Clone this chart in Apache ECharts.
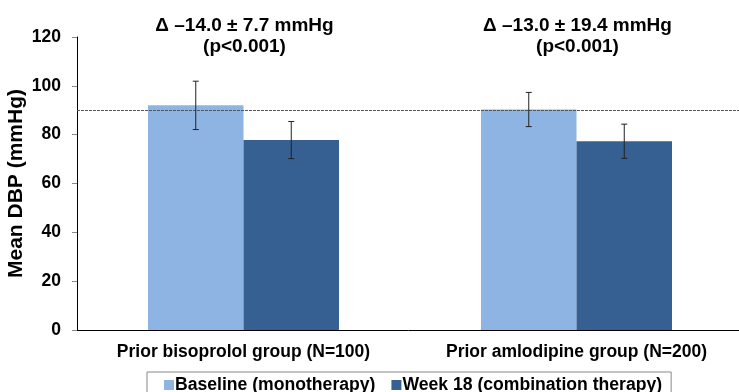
<!DOCTYPE html>
<html>
<head>
<meta charset="utf-8">
<script src="https://cdn.jsdelivr.net/npm/echarts@6/dist/echarts.min.js"></script>
<style>html,body{margin:0;padding:0;background:#fff}#c{width:739px;height:392px}</style>
</head>
<body>
<div id="c"></div>
<script>
var categories = ['Prior bisoprolol group (N=100)', 'Prior amlodipine group (N=200)'];
var seriesNames = ['Baseline (monotherapy)', 'Week 18 (combination therapy)'];
var baseline = [92.0, 90.3];
var week18 = [77.8, 77.3];
var baselineErr = [9.9, 7.0];
var week18Err = [7.6, 7.0];
var referenceLine = 90;
var annotations = ['\u0394 \u201314.0 \u00b1 7.7 mmHg\n(p<0.001)', '\u0394 \u201313.0 \u00b1 19.4 mmHg\n(p<0.001)'];
var yTicks = {min: 0, max: 120, interval: 20};

var FONT = 'Liberation Sans, Arial, sans-serif';
var BAR_W = 95.5;
var colors = ['#8EB4E3', '#376092'];

function errSeries(values, errs, offset) {
  return {
    type: 'custom',
    z: 5,
    silent: true,
    data: values.map(function (v, i) { return [i, v - errs[i], v + errs[i]]; }),
    renderItem: function (params, api) {
      var lo = api.coord([api.value(0), api.value(1)]);
      var hi = api.coord([api.value(0), api.value(2)]);
      var x = lo[0] + offset;
      var cap = 3;
      var st = {stroke: '#222', lineWidth: 1};
      return {type: 'group', children: [
        {type: 'line', shape: {x1: x, y1: lo[1], x2: x, y2: hi[1]}, style: st},
        {type: 'line', shape: {x1: x - cap, y1: lo[1], x2: x + cap, y2: lo[1]}, style: st},
        {type: 'line', shape: {x1: x - cap, y1: hi[1], x2: x + cap, y2: hi[1]}, style: st}
      ]};
    }
  };
}

var chart = echarts.init(document.getElementById('c'), null, {renderer: 'canvas'});
chart.setOption({
  animation: false,
  backgroundColor: '#fff',
  textStyle: {fontFamily: FONT},
  grid: {left: 77, right: -4, top: 37, bottom: 62, containLabel: false, outerBoundsMode: 'none'},
  legend: {
    data: seriesNames,
    left: 147,
    top: 372,
    orient: 'horizontal',
    itemWidth: 10,
    itemHeight: 10,
    itemGap: 16,
    padding: [4, 9, 8, 17],
    borderColor: '#888',
    borderWidth: 1,
    icon: 'rect',
    textStyle: {fontFamily: FONT, fontWeight: 'bold', fontSize: 17.6, color: '#000', padding: [0, 0, 0, -4]}
  },
  xAxis: {
    type: 'category',
    data: categories,
    axisLine: {lineStyle: {color: '#000', width: 1}},
    axisTick: {show: false},
    axisLabel: {interval: 0, hideOverlap: false, fontFamily: FONT, fontWeight: 'bold', fontSize: 17.5, color: '#000', margin: 13},
    splitLine: {show: false}
  },
  yAxis: {
    type: 'value',
    min: yTicks.min,
    max: yTicks.max,
    interval: yTicks.interval,
    name: 'Mean DBP (mmHg)',
    nameLocation: 'middle',
    nameGap: 50,
    nameMoveOverlap: false,
    nameTextStyle: {fontFamily: FONT, fontWeight: 'bold', fontSize: 21, color: '#000'},
    axisLine: {show: true, lineStyle: {color: '#000', width: 1}},
    axisTick: {show: true, length: 5, lineStyle: {color: '#888'}},
    axisLabel: {fontFamily: FONT, fontWeight: 'bold', fontSize: 17.5, color: '#000', margin: 16},
    splitLine: {show: false}
  },
  series: [
    {
      name: seriesNames[0], type: 'bar', data: baseline, barWidth: BAR_W, barGap: '0%',
      itemStyle: {color: colors[0]},
      markLine: {
        silent: true, symbol: 'none', label: {show: false},
        lineStyle: {color: '#555', type: [3, 1], width: 1},
        data: [{yAxis: referenceLine}]
      }
    },
    {
      name: seriesNames[1], type: 'bar', data: week18, barWidth: BAR_W, barGap: '0%',
      itemStyle: {color: colors[1]}
    },
    errSeries(baseline, baselineErr, -BAR_W / 2),
    errSeries(week18, week18Err, BAR_W / 2),
    {
      type: 'custom', silent: true, z: 6,
      data: annotations.map(function (t, i) { return [i, yTicks.max]; }),
      renderItem: function (params, api) {
        var p = api.coord([api.value(0), api.value(1)]);
        return {
          type: 'text',
          style: {
            x: p[0] + 1, y: p[1] - 1,
            text: annotations[params.dataIndex],
            align: 'center', verticalAlign: 'middle',
            font: 'bold 19px ' + FONT,
            lineHeight: 21,
            fill: '#000'
          }
        };
      }
    }
  ]
});
</script>
</body>
</html>
